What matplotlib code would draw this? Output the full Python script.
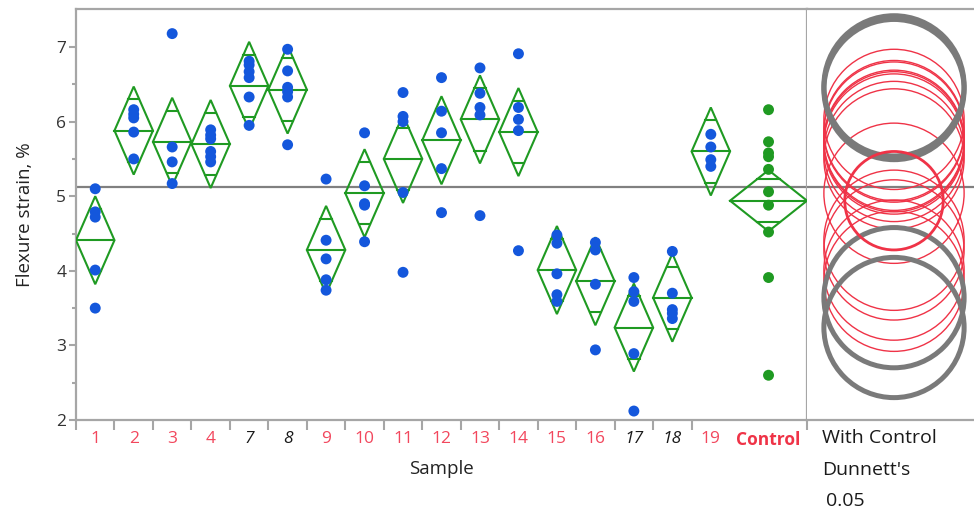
"""
Oneway plot of flexure strain by sample with means diamonds and
Dunnett's comparison circles (with control).
"""

import matplotlib
matplotlib.use("Agg")
import matplotlib.pyplot as plt
from matplotlib.patches import Circle, Polygon
import numpy as np

plt.rcParams["font.family"] = ["Open Sans", "DejaVu Sans"]

# Samples in plot order, the control is last
samples = ["1", "2", "3", "4", "7", "8", "9", "10", "11", "12", "13", "14",
           "15", "16", "17", "18", "19", "Control"]

points = [
    [5.10, 4.79, 4.72, 4.01, 3.50],
    [6.16, 6.10, 6.05, 5.86, 5.50],
    [7.18, 5.66, 5.46, 5.17],
    [5.89, 5.82, 5.77, 5.60, 5.53, 5.46],
    [6.81, 6.76, 6.67, 6.59, 6.33, 5.95],
    [6.97, 6.68, 6.46, 6.40, 6.33, 5.69],
    [5.23, 4.41, 4.16, 3.88, 3.74],
    [5.85, 5.14, 4.90, 4.88, 4.39],
    [6.39, 6.07, 6.00, 5.05, 3.98],
    [6.59, 6.14, 5.85, 5.37, 4.78],
    [6.72, 6.38, 6.19, 6.09, 4.74],
    [6.91, 6.19, 6.03, 5.88, 4.27],
    [4.48, 4.37, 3.96, 3.68, 3.59],
    [4.38, 4.28, 3.82, 2.94],
    [3.91, 3.72, 3.59, 2.89, 2.12],
    [4.26, 3.70, 3.48, 3.43, 3.36],
    [5.83, 5.66, 5.49, 5.40],
    [6.16, 5.73, 5.58, 5.53, 5.36, 5.06, 4.88, 4.52, 3.91, 2.60],
]

# Group means (diamond centres)
means = [4.41, 5.88, 5.73, 5.70, 6.48, 6.43, 4.28, 5.04, 5.50, 5.75,
         6.03, 5.86, 4.01, 3.86, 3.24, 3.64, 5.60, 4.94]

# Relative group size (x-axis proportional to n)
widths = [1] * 17 + [2]

# 95% CI half-width of the means diamonds
ci_half = [0.59] * 17 + [0.41]

# Dunnett's comparison circle radii
circle_r = [0.94] * 17 + [0.66]

# Groups significantly different from control (gray circles, black labels)
significant = ["7", "8", "17", "18"]

grand_mean = 5.12
y_lo, y_hi = 2.0, 7.51

BLUE = "#1457dc"
GREEN = "#1f9a22"
RED = "#ef3347"
GRAY = "#7a7a7a"
FRAME = "#a6a6a6"

W, H = 974, 513
fig = plt.figure(figsize=(W / 100, H / 100), dpi=100)

# pixel layout
left, right_main, top, bottom = 76, 807, 9, 420
ax = fig.add_axes([left / W, (H - bottom) / H, (right_main - left) / W, (bottom - top) / H])
ax2 = fig.add_axes([right_main / W, (H - bottom) / H, (W - right_main) / W, (bottom - top) / H])

edges = np.concatenate([[0], np.cumsum(widths)])
centers = (edges[:-1] + edges[1:]) / 2

for i, name in enumerate(samples):
    x0, x1, xc = edges[i], edges[i + 1], centers[i]
    m, h = means[i], ci_half[i]
    # means diamond
    ax.add_patch(Polygon([[x0, m], [xc, m + h], [x1, m], [xc, m - h]],
                         closed=True, fill=False, edgecolor=GREEN, lw=1.5, zorder=3))
    ax.plot([x0, x1], [m, m], color=GREEN, lw=1.5, zorder=3)
    # overlap marks
    d = h * np.sqrt(2) / 2
    hw = (x1 - x0) / 2 * (1 - d / h)
    for s in (1, -1):
        ax.plot([xc - hw, xc + hw], [m + s * d, m + s * d], color=GREEN, lw=1.5, zorder=3)
    col = GREEN if name == "Control" else BLUE
    ax.scatter([xc] * len(points[i]), points[i], s=62, color=col, edgecolors="none", zorder=4)

ax.axhline(grand_mean, color="#808080", lw=1.6, zorder=2)
ax.set_xlim(0, edges[-1])
ax.set_ylim(y_lo, y_hi)

# x ticks at group boundaries, labels at centres
ax.set_xticks([e for i, e in enumerate(edges) if not (i == len(edges) - 2)])
ax.set_xticklabels([])
ax.set_xticks(centers, minor=True)
ax.set_xticklabels(samples, minor=True)
ax.tick_params(axis="x", which="major", direction="out", length=7.5, width=1.5, color=FRAME)
ax.tick_params(axis="x", which="minor", length=0, pad=8, labelsize=12.5)
for lbl, name in zip(ax.get_xticklabels(minor=True), samples):
    if name == "Control":
        lbl.set_color(RED)
        lbl.set_fontweight("bold")
    elif name in significant:
        lbl.set_color("#1a1a1a")
        lbl.set_fontstyle("italic")
    else:
        lbl.set_color("#f2475d")

ax.set_yticks(np.arange(2, 8))
ax.set_yticks(np.arange(2.5, 7.0, 1.0), minor=True)
ax.tick_params(axis="y", which="major", direction="out", length=5, width=1.5,
               color=FRAME, labelsize=12.5, labelcolor="#333333", pad=2)
ax.tick_params(axis="y", which="minor", direction="out", length=3, width=1.5, color=FRAME)

for sp in ax.spines.values():
    sp.set_color(FRAME)
    sp.set_linewidth(1.6)

ax.set_xlabel("Sample", fontsize=13.5, color="#222222", labelpad=8)
ax.set_ylabel("Flexure strain, %", fontsize=13.5, color="#222222", labelpad=16)

# comparison circles panel, equal aspect
y_per_px = (y_hi - y_lo) / (bottom - top)
ax2.set_ylim(y_lo, y_hi)
ax2.set_xlim(0, (W - right_main) * y_per_px)
cx = (894 - right_main) * y_per_px
ax2.axhline(grand_mean, color="#808080", lw=1.6, zorder=1)

order = [i for i, n in enumerate(samples) if n not in significant and n != "Control"]
for i in order:
    ax2.add_patch(Circle((cx, means[i]), circle_r[i], fill=False, edgecolor=RED, lw=1.0, zorder=2))
for i, n in enumerate(samples):
    if n in significant:
        ax2.add_patch(Circle((cx, means[i]), circle_r[i], fill=False, edgecolor=GRAY, lw=3.6, zorder=3))
ctrl = samples.index("Control")
ax2.add_patch(Circle((cx, means[ctrl]), circle_r[ctrl], fill=False, edgecolor=RED, lw=2.0, zorder=4))

ax2.set_xticks([])
ax2.set_yticks([])
ax2.spines["left"].set_visible(False)
ax2.spines["right"].set_visible(False)
for k in ("top", "bottom"):
    ax2.spines[k].set_color(FRAME)
    ax2.spines[k].set_linewidth(1.6)

fig.text(822 / W, 1 - 438 / H, "With Control", fontsize=14, color="#1a1a1a", va="center", ha="left")
fig.text(822 / W, 1 - 470 / H, "Dunnett's", fontsize=14, color="#1a1a1a", va="center", ha="left")
fig.text(826 / W, 1 - 501 / H, "0.05", fontsize=14, color="#1a1a1a", va="center", ha="left")

fig.savefig("out.png", dpi=100)
